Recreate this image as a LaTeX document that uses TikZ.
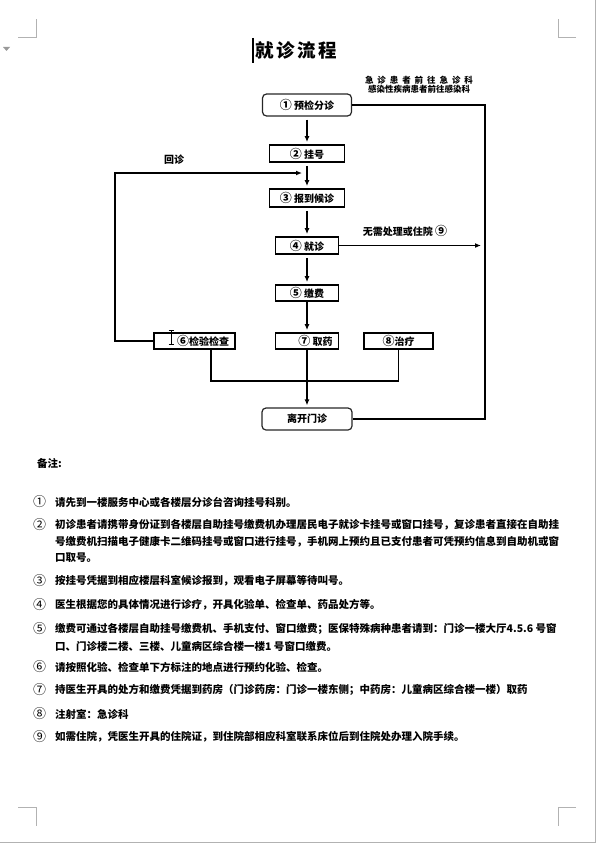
\documentclass[tikz,border=0pt]{standalone}
\usepackage{fontspec}
\newfontfamily\cjk{Noto Sans CJK SC}
\newcommand{\cn}[1]{{\fontsize{12}{12}\selectfont #1}}
\usetikzlibrary{arrows.meta}
\begin{document}
\begin{tikzpicture}[x=1pt,y=-1pt,
  boxfont/.style={font=\cjk\bfseries\fontsize{10}{12}\selectfont},
  box/.style={boxfont,draw=black,line width=1.8pt,minimum height=17pt,inner sep=0pt},
  rbox/.style={boxfont,draw=black!85,line width=1.2pt,rounded corners=4pt,inner sep=0pt,minimum width=89pt,minimum height=22pt},
  conn/.style={line width=1.7pt},
  arr/.style={conn,-{Latex[length=6pt,width=5pt]}},
  lbl/.style={boxfont,inner sep=0pt},
  small/.style={font=\cjk\bfseries\fontsize{8.5}{10}\selectfont,inner sep=0pt},
  note/.style={anchor=west,inner sep=0pt,font=\cjk\bfseries\fontsize{10.5}{12}\selectfont},
  cnum/.style={note,font=\cjk\fontsize{13}{13}\selectfont},
  cornermark/.style={draw=black!30,line width=0.8pt},
]
\useasboundingbox (0,0) rectangle (596,843);
% page decorations
\draw[cornermark] (18,37) -- (36,37) -- (36,19);
\draw[cornermark] (576,37) -- (558,37) -- (558,19);
\draw[cornermark] (18,807) -- (36,807) -- (36,826);
\draw[cornermark] (576,807) -- (558,807) -- (558,826);
\draw[black!30,line width=1pt] (595.5,0) -- (595.5,843);
\draw[black!30,line width=1pt] (0,842.5) -- (596,842.5);
\fill[black!40] (3,47) -- (10,47) -- (6.5,51) -- cycle;
% title
\draw[line width=1.5pt] (253,38) -- (253,63);
\node[font=\cjk\bfseries\fontsize{18.5}{20}\selectfont,inner sep=0pt] (title) at (296,50) {就\hspace{2.5pt}诊\hspace{2.5pt}流\hspace{2.5pt}程};
% boxes
\node[rbox] (b1) at (307,105) {\cn{①} 预检分诊};
\node[box,minimum width=75pt] (b2) at (307,153.5) {\cn{②} 挂号};
\node[box,minimum width=75pt,minimum height=18pt] (b3) at (307,198) {\cn{③} 报到候诊};
\node[box,minimum width=63pt] (b4) at (307,245.5) {\cn{④} 就诊};
\node[box,minimum width=63pt,minimum height=16pt] (b5) at (307,293) {\cn{⑤} 缴费};
\node[box,minimum width=81pt,minimum height=16pt] (b6) at (194.5,341) {\hspace*{17pt}\cn{⑥}检验检查};
\node[box,minimum width=63pt,minimum height=16pt] (b7) at (307,341) {\hspace*{17pt}\cn{⑦} 取药};
\node[box,minimum width=69pt,minimum height=16pt] (b8) at (398.5,341) {\cn{⑧}治疗};
\node[rbox,minimum width=90pt] (b9) at (307,419) {离开门诊};
% labels
\node[small] (e1) at (419,80) {\makebox[108pt]{急\hfill 诊\hfill 患\hfill 者\hfill 前\hfill 往\hfill 急\hfill 诊\hfill 科}};
\node[small] (e2) at (419,89) {感染性疾病患者前往感染科};
\node[lbl] (hz) at (174,160) {回诊};
\node[lbl] (wx) at (405,231) {无需处理或住院 \cn{⑨}};
% connectors
\coordinate (rj) at (307,173);
\coordinate (r4) at (481,245.5);
\draw[arr,shorten <=3pt,shorten >=2pt] (b1.south) -- (b2.north);
\draw[arr,shorten <=3pt,shorten >=2pt] (b2.south) -- (b3.north);
\draw[arr,shorten <=3pt,shorten >=2pt] (b3.south) -- (b4.north);
\draw[arr,shorten <=3pt,shorten >=2pt] (b4.south) -- (b5.north);
\draw[arr,shorten >=2pt] (b5.south) -- (b7.north);
\draw[arr,shorten >=2pt] (b7.south) -- (b9.north);
\draw[arr,shorten >=5pt] (b6.west) -- ++(-38,0) |- (rj);
\draw[arr] (b4.east) -- (r4);
\draw[conn] (b1.east) -- ++(133,0) |- (b9.east);
\draw[conn] ([xshift=16.5pt]b6.south) -- ++(0,31) -| (b8.south);
% cursor
\draw[line width=0.7pt] (171,330) -- (171,344) (168.5,330) -- (173.5,330) (168.5,344) -- (173.5,344);
% notes
\node[note] (n0) at (37,463) {备注:};
\node[cnum] (c1) at (33,502) {①};
\node[note] (t1) at (55,502) {请先到一楼服务中心或各楼层分诊台咨询挂号科别。};
\node[cnum] (c2) at (33,525) {②};
\node[note] (t2a) at (55,525) {初诊患者请携带身份证到各楼层自助挂号缴费机办理居民电子就诊卡挂号或窗口挂号，复诊患者直接在自助挂};
\node[note] (t2b) at (55,542) {号缴费机扫描电子健康卡二维码挂号或窗口进行挂号，手机网上预约且已支付患者可凭预约信息到自助机或窗};
\node[note] (t2c) at (55,558) {口取号。};
\node[cnum] (c3) at (33,581) {③};
\node[note] (t3) at (55,581) {按挂号凭据到相应楼层科室候诊报到，观看电子屏幕等待叫号。};
\node[cnum] (c4) at (33,605) {④};
\node[note] (t4) at (55,605) {医生根据您的具体情况进行诊疗，开具化验单、检查单、药品处方等。};
\node[cnum] (c5) at (33,629) {⑤};
\node[note] (t5a) at (55,629) {缴费可通过各楼层自助挂号缴费机、手机支付、窗口缴费；医保特殊病种患者请到：门诊一楼大厅4.5.6 号窗};
\node[note] (t5b) at (55,646) {口、门诊楼二楼、三楼、儿童病区综合楼一楼1 号窗口缴费。};
\node[cnum] (c6) at (33,667) {⑥};
\node[note] (t6) at (55,667) {请按照化验、检查单下方标注的地点进行预约化验、检查。};
\node[cnum] (c7) at (33,690) {⑦};
\node[note] (t7) at (55,690) {持医生开具的处方和缴费凭据到药房（门诊药房：门诊一楼东侧；中药房：儿童病区综合楼一楼）取药};
\node[cnum] (c8) at (33,714) {⑧};
\node[note] (t8) at (55,714) {注射室：急诊科};
\node[cnum] (c9) at (33,737) {⑨};
\node[note] (t9) at (55,737) {如需住院，凭医生开具的住院证，到住院部相应科室联系床位后到住院处办理入院手续。};
\end{tikzpicture}
\end{document}
